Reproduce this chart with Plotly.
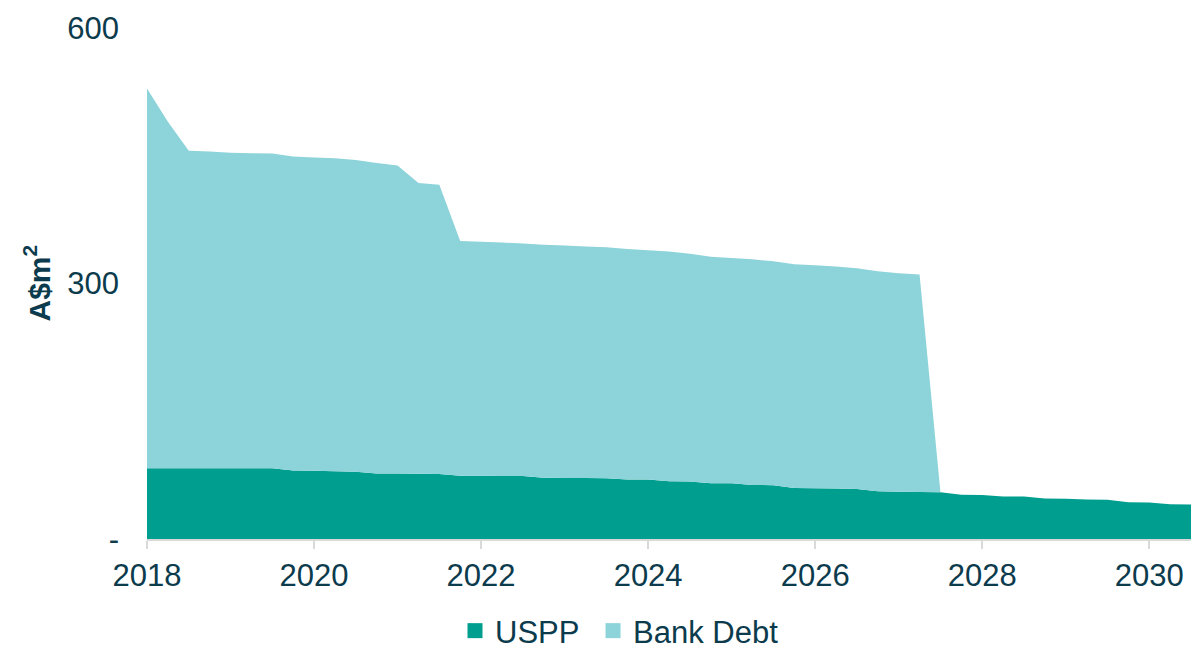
import plotly.graph_objects as go

# Quarter positions (decimal years)
quarters = [2018.0, 2018.25, 2018.5, 2018.75, 2019.0, 2019.25, 2019.5, 2019.75,
            2020.0, 2020.25, 2020.5, 2020.75, 2021.0, 2021.25, 2021.5, 2021.75,
            2022.0, 2022.25, 2022.5, 2022.75, 2023.0, 2023.25, 2023.5, 2023.75,
            2024.0, 2024.25, 2024.5, 2024.75, 2025.0, 2025.25, 2025.5, 2025.75,
            2026.0, 2026.25, 2026.5, 2026.75, 2027.0, 2027.25, 2027.5, 2027.75,
            2028.0, 2028.25, 2028.5, 2028.75, 2029.0, 2029.25, 2029.5, 2029.75,
            2030.0, 2030.25, 2030.5]

uspp = [83, 83, 83, 83, 83, 83, 83, 80.5,
        80, 79.5, 79, 77, 76.8, 76.5, 76.3, 74.3,
        74.2, 74.1, 74, 71.8, 71.7, 71.6, 71.4, 70,
        69.8, 67.8, 67.6, 65.6, 65.4, 63.4, 63.2, 59.8,
        59.6, 59.2, 58.8, 56, 55.6, 55.2, 54.8, 52,
        51.8, 50, 49.8, 47.5, 47.3, 46.5, 46.2, 43.2,
        43, 40.8, 40.6]

bank_debt = [446, 407, 373, 372, 370.5, 370, 369.5, 368.5,
             368, 367.5, 366, 364.5, 361.7, 341.5, 339.7, 275.7,
             274.8, 273.9, 273, 273.7, 272.8, 271.9, 271.1, 270.5,
             269.2, 269.7, 267.4, 265.9, 264.6, 265.1, 262.8, 262.7,
             261.9, 260.8, 259.2, 258.5, 256.4, 255.3, 0, 0,
             0, 0, 0, 0, 0, 0, 0, 0,
             0, 0, 0]

year_ticks = [2018, 2020, 2022, 2024, 2026, 2028, 2030]
year_labels = ["2018", "2020", "2022", "2024", "2026", "2028", "2030"]
y_ticks = [0, 300, 600]
y_labels = ["-", "300", "600"]

C_USPP = "#009E8E"
C_BANK = "#8DD3DA"
TXT = "#0B3B4C"
FONT = "Liberation Sans, Arial, sans-serif"

W, H = 1192, 642
ML, MT, MR = 139, 19.5, 9
MB = H - 531.5
PW = W - ML - MR

NB = "\u00a0"

fig = go.Figure()
fig.add_trace(go.Scatter(x=quarters, y=uspp, stackgroup="one", mode="none",
                         fillcolor=C_USPP, line=dict(width=0), name="USPP",
                         showlegend=False))
fig.add_trace(go.Scatter(x=quarters, y=bank_debt, stackgroup="one", mode="none",
                         fillcolor=C_BANK, line=dict(width=0), name="Bank Debt",
                         showlegend=False))
# legend entries with square swatches
fig.add_trace(go.Scatter(x=[None], y=[None], mode="markers", name="USPP" + NB,
                         marker=dict(symbol="square", size=15, color=C_USPP)))
fig.add_trace(go.Scatter(x=[None], y=[None], mode="markers", name="Bank Debt",
                         marker=dict(symbol="square", size=15, color=C_BANK)))

fig.update_layout(
    width=W, height=H,
    margin=dict(l=ML, r=MR, t=MT, b=MB, autoexpand=False),
    plot_bgcolor="white", paper_bgcolor="white",
    font=dict(family=FONT, size=31, color=TXT),
    showlegend=True,
    legend=dict(orientation="h", xref="container", yref="container",
                x=447 / W, xanchor="left", y=19 / H, yanchor="middle",
                traceorder="normal",
                font=dict(size=31, color=TXT), itemclick=False),
    xaxis=dict(range=[2018, 2030.5], tickvals=year_ticks, ticktext=year_labels,
               showgrid=False, zeroline=False, showline=True, automargin=False,
               linecolor="#D9D9D9", linewidth=2,
               ticks="outside", ticklen=8, tickcolor="#D9D9D9", tickwidth=2,
               ticklabelstandoff=0,
               tickfont=dict(size=31, color=TXT)),
    yaxis=dict(range=[0, 600], tickvals=y_ticks, ticktext=y_labels,
               showgrid=False, zeroline=False, showline=False, automargin=False,
               ticks="", ticklabelstandoff=27,
               tickfont=dict(size=31, color=TXT)),
    annotations=[dict(text="<b>A$m<sup>2</sup></b>", xref="paper", yref="paper",
                      x=-(ML - 29) / PW, y=0.5, textangle=-90,
                      showarrow=False, xanchor="center", yanchor="middle",
                      font=dict(size=30, color=TXT, family=FONT))],
)

fig.write_html("out.html")
